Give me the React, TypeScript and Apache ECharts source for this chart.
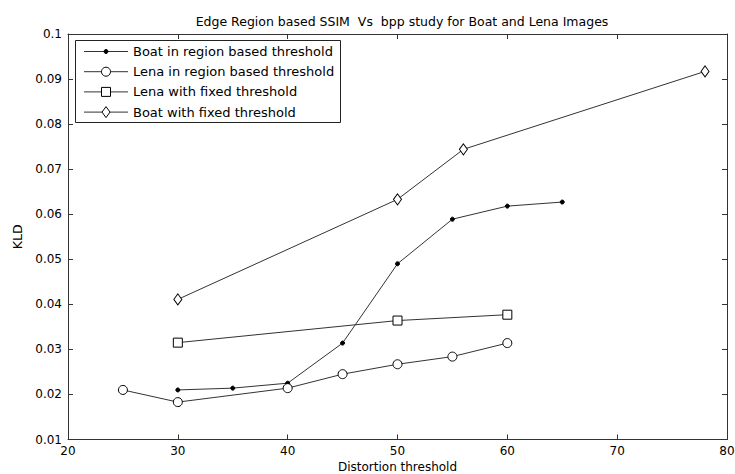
import React, { useEffect, useRef } from "react";
import * as echarts from "echarts";

const title = "Edge Region based SSIM  Vs  bpp study for Boat and Lena Images";
const xName = "Distortion threshold";
const yName = "KLD";

const boatRegionX = [30, 35, 40, 45, 50, 55, 60, 65];
const boatRegionY = [0.021, 0.0214, 0.0225, 0.0314, 0.049, 0.0589, 0.0618, 0.0627];

const lenaRegionX = [25, 30, 40, 45, 50, 55, 60];
const lenaRegionY = [0.021, 0.0183, 0.0214, 0.0245, 0.0267, 0.0284, 0.0314];

const lenaFixedX = [30, 50, 60];
const lenaFixedY = [0.0315, 0.0364, 0.0377];

const boatFixedX = [30, 50, 56, 78];
const boatFixedY = [0.0411, 0.0633, 0.0744, 0.0917];

const seriesNames = [
  "Boat in region based threshold",
  "Lena in region based threshold",
  "Lena with fixed threshold",
  "Boat with fixed threshold",
];

const zip = (xs: number[], ys: number[]) => xs.map((x, i) => [x, ys[i]]);

export default function App() {
  const ref = useRef<HTMLDivElement>(null);
  useEffect(() => {
    if (!ref.current) return;
    const chart = echarts.init(ref.current, null, { renderer: "svg" });
    const font = "DejaVu Sans";
    const lineColor = "#333";
    const lineStyle = { color: lineColor, width: 1 };
    const mk = (name: string, data: number[][], symbol: string, size: any, fill: string) => ({
      name,
      type: "line",
      data,
      symbol,
      symbolSize: size,
      showSymbol: true,
      lineStyle,
      itemStyle: { color: fill, borderColor: "#000", borderWidth: 1 },
      emphasis: { disabled: true },
    });
    const axisCommon = {
      type: "value",
      axisLine: { show: true, lineStyle: { color: "#333", width: 1 } },
      axisTick: { show: true, inside: true, length: 5, lineStyle: { color: "#333" } },
      splitLine: { show: false },
    };

    // legend drawn with graphic elements
    const lx0 = 84, lx1 = 128, mx = 106, tx = 133;
    const rowY = [51.5, 71.7, 91.9, 112.1];
    const legendEls: any[] = [
      {
        type: "rect",
        shape: { x: 75.5, y: 40.5, width: 265, height: 82 },
        style: { fill: "#fff", stroke: "#222", lineWidth: 1 },
        z: 100,
      },
    ];
    rowY.forEach((y, i) => {
      legendEls.push({
        type: "line",
        shape: { x1: lx0, y1: y, x2: lx1, y2: y },
        style: { stroke: lineColor, lineWidth: 1 },
        z: 101,
      });
      let m: any;
      if (i === 0) {
        m = { type: "circle", shape: { cx: mx, cy: y, r: 2 }, style: { fill: "#000", stroke: "#000" } };
      } else if (i === 1) {
        m = { type: "circle", shape: { cx: mx, cy: y, r: 4.5 }, style: { fill: "#fff", stroke: "#000", lineWidth: 1 } };
      } else if (i === 2) {
        m = { type: "rect", shape: { x: mx - 4.5, y: y - 4.5, width: 9, height: 9 }, style: { fill: "#fff", stroke: "#000", lineWidth: 1 } };
      } else {
        m = {
          type: "polygon",
          shape: { points: [[mx, y - 5.5], [mx + 4, y], [mx, y + 5.5], [mx - 4, y]] },
          style: { fill: "#fff", stroke: "#000", lineWidth: 1 },
        };
      }
      m.z = 102;
      legendEls.push(m);
      legendEls.push({
        type: "text",
        x: tx,
        y,
        style: { text: seriesNames[i], font: `13px '${font}'`, fill: "#000", verticalAlign: "middle" },
        z: 102,
      });
    });

    chart.setOption({
      animation: false,
      backgroundColor: "#fff",
      textStyle: { fontFamily: font },
      title: {
        text: title,
        left: 397,
        textAlign: "center",
        top: 10,
        textStyle: { fontSize: 12.5, fontWeight: "normal", color: "#000", fontFamily: font },
      },
      grid: { left: 68, right: 8, top: 34, bottom: 34.5, containLabel: false, outerBoundsMode: "none" },
      graphic: legendEls,
      xAxis: [
        {
          ...axisCommon,
          min: 20,
          max: 80,
          interval: 10,
          position: "bottom",
          name: xName,
          nameLocation: "middle",
          nameGap: 20,
          nameTextStyle: { fontSize: 12, color: "#000", fontFamily: font },
          axisLabel: { fontSize: 12, color: "#000", margin: 5, fontFamily: font },
        },
        {
          ...axisCommon,
          min: 20,
          max: 80,
          interval: 10,
          position: "top",
          axisLabel: { show: false },
        },
      ],
      yAxis: [
        {
          ...axisCommon,
          min: 0.01,
          max: 0.1,
          interval: 0.01,
          position: "left",
          name: yName,
          nameLocation: "middle",
          nameGap: 44,
          nameRotate: 90,
          nameTextStyle: { fontSize: 12.5, color: "#000", fontFamily: font },
          axisLabel: {
            fontSize: 12,
            color: "#000",
            margin: 6,
            fontFamily: font,
            formatter: (v: number) => String(+v.toFixed(2)),
          },
        },
        {
          ...axisCommon,
          min: 0.01,
          max: 0.1,
          interval: 0.01,
          position: "right",
          axisLabel: { show: false },
        },
      ],
      series: [
        mk(seriesNames[0], zip(boatRegionX, boatRegionY), "circle", 4, "#000"),
        mk(seriesNames[1], zip(lenaRegionX, lenaRegionY), "circle", 9, "#fff"),
        mk(seriesNames[2], zip(lenaFixedX, lenaFixedY), "rect", 9, "#fff"),
        mk(seriesNames[3], zip(boatFixedX, boatFixedY), "diamond", [8, 11], "#fff"),
      ],
    });
    return () => chart.dispose();
  }, []);
  return <div ref={ref} style={{ width: 735, height: 474, position: "absolute", left: 0, top: 0 }} />;
}
